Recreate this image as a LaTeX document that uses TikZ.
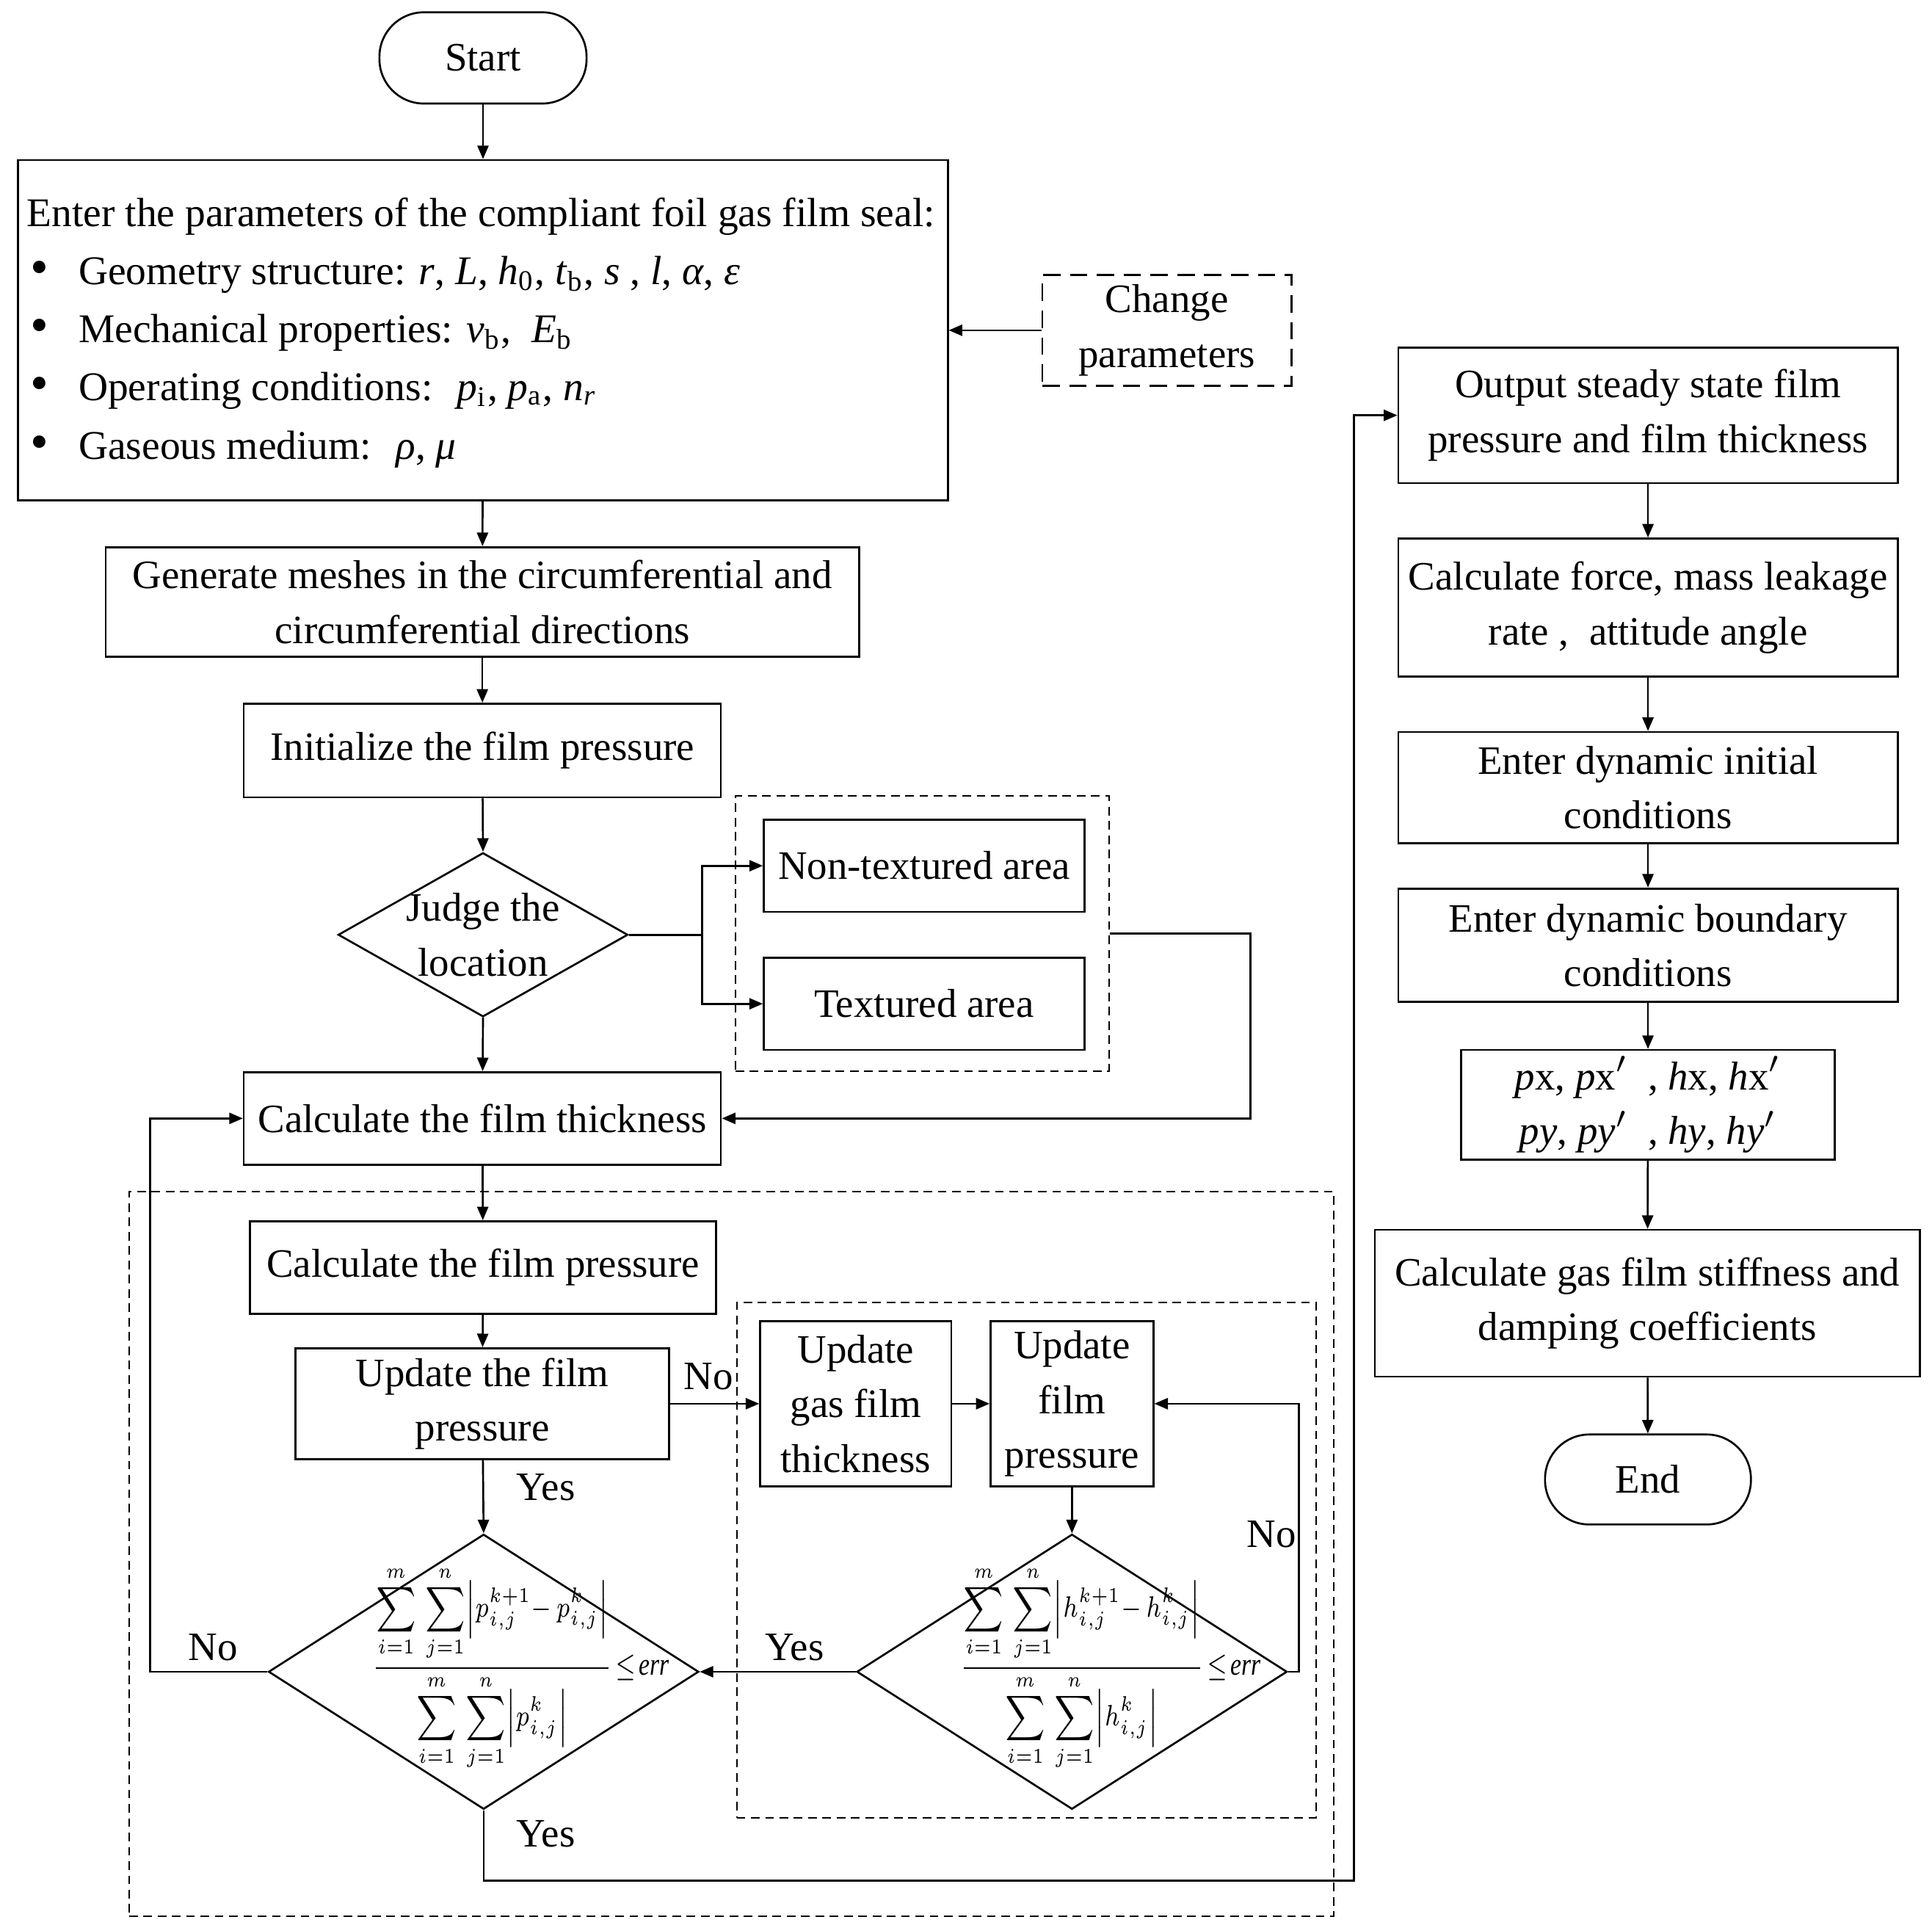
\documentclass[tikz,border=0pt]{standalone}
\usepackage{fontspec}
\usepackage{amsmath}
\usepackage{graphicx}
\setmainfont{Liberation Serif}
\usetikzlibrary{arrows.meta,shapes.geometric}
\newcommand\mainfs{\fontsize{9.3}{12.6}\selectfont}
\newcommand\parfs{\fontsize{9.4}{13.4}\selectfont}
\newcommand\frmfs{\fontsize{7.5}{9}\selectfont}
\newcommand\myLim[1]{\makebox[0pt]{$\scriptscriptstyle #1$}}
\newcommand\dsum{\displaystyle\sum_{\myLim{i=1}}^{\myLim{m}}\,\sum_{\myLim{j=1}}^{\myLim{n}}}
\newcommand\errfrac[1]{\scalebox{0.76}[0.97]{$\displaystyle\frac{\dsum\Bigl|#1_{i,j}^{\scriptscriptstyle k+1}{-}\,#1_{i,j}^{k}\Bigr|}{\dsum\Bigl|#1_{i,j}^{k}\Bigr|}\!\le\!\mathit{err}$}}
\begin{document}
\begin{tikzpicture}[x=0.01cm,y=-0.01cm,line width=0.45pt,
  box/.style={draw,rectangle,inner sep=0pt,align=center,font=\mainfs},
  term/.style={draw,rectangle,rounded corners=0.36cm,inner sep=0pt,font=\mainfs},
  dia/.style={draw,diamond,inner sep=0pt},
  dbox/.style={draw,dash pattern=on 2pt off 1.3pt,line width=0.35pt,inner sep=0pt},
  ldbox/.style={draw,dash pattern=on 4pt off 2.2pt,inner sep=0pt,align=center,font=\mainfs},
  arr/.style={-{Triangle[length=0.11cm,width=0.09cm]}},
  lbl/.style={font=\mainfs,inner sep=0pt},
  frm/.style={font=\frmfs,inner sep=0pt}]
\useasboundingbox (0,0) rectangle (1568,1564);

% left column
\node[term,minimum width=1.68cm,minimum height=0.74cm] (start) at (392,47) {Start};
\node[box,minimum width=7.54cm,minimum height=2.76cm] (param) at (392,268) {};
\node[anchor=west,align=left,font=\parfs,inner sep=0pt] (ptext) at (21,270) {%
Enter the parameters of the compliant foil gas film seal:\\
\makebox[0.42cm][l]{\hspace{0.03cm}\large\textbullet}Geometry structure: \textit{r}, \textit{L}, \textit{h}\textsubscript{0}, \textit{t}\textsubscript{b}, \textit{s} , \textit{l}, \textit{α}, \textit{ε}\\
\makebox[0.42cm][l]{\hspace{0.03cm}\large\textbullet}Mechanical properties: \textit{v}\textsubscript{b}, \ \textit{E}\textsubscript{b}\\
\makebox[0.42cm][l]{\hspace{0.03cm}\large\textbullet}Operating conditions:\hspace{0.6em}\textit{p}\textsubscript{i}, \textit{p}\textsubscript{a}, \textit{n}\textsubscript{\textit{r}}\\
\makebox[0.42cm][l]{\hspace{0.03cm}\large\textbullet}Gaseous medium:\hspace{0.6em}\textit{ρ}, \textit{μ}};
\node[ldbox,minimum width=2.02cm,minimum height=0.90cm] (change) at (947,268) {Change\\parameters};
\node[box,minimum width=6.11cm,minimum height=0.89cm] (gen) at (391.5,488.5) {Generate meshes in the circumferential and\\circumferential directions};
\node[box,minimum width=3.87cm,minimum height=0.76cm] (init) at (391.5,609) {Initialize the film pressure};
\node[dia,minimum width=2.35cm,minimum height=1.33cm] (judge) at (392,758.5) {};
\node[lbl,align=center] (judget) at (judge.center) {Judge the\\location};
\node[dbox,minimum width=3.03cm,minimum height=2.23cm] (area) at (748.5,757.5) {};
\node[box,minimum width=2.60cm,minimum height=0.75cm] (nontex) at (750,702.5) {Non-textured area};
\node[box,minimum width=2.60cm,minimum height=0.75cm] (tex) at (750,814.5) {Textured area};
\node[box,minimum width=3.87cm,minimum height=0.75cm] (thick) at (391.5,907.5) {Calculate the film thickness};

% iteration block
\node[dbox,minimum width=9.77cm,minimum height=5.88cm] (big) at (593.5,1261) {};
\node[box,minimum width=3.78cm,minimum height=0.75cm] (calcp) at (392,1028.5) {Calculate the film pressure};
\node[box,minimum width=3.03cm,minimum height=0.90cm] (upd) at (391.5,1139) {Update the film\\pressure};
\node[dbox,minimum width=4.70cm,minimum height=4.18cm] (inner) at (833,1266) {};
\node[box,minimum width=1.55cm,minimum height=1.34cm] (ugt) at (694.5,1139) {Update\\gas film\\thickness};
\node[box,minimum width=1.32cm,minimum height=1.34cm] (ufp) at (870,1139) {Update\\film\\pressure};
\node[dia,minimum width=3.49cm,minimum height=2.23cm] (hd) at (870,1356.5) {};
\node[frm] (hf) at ([xshift=0.31cm,yshift=0.03cm]hd.center) {\errfrac{h}};
\node[dia,minimum width=3.49cm,minimum height=2.23cm] (pd) at (392.5,1356.5) {};
\node[frm] (pf) at ([xshift=0.30cm,yshift=0.03cm]pd.center) {\errfrac{p}};

% right column
\node[box,minimum width=4.05cm,minimum height=1.10cm] (out) at (1337.5,337) {Output steady state film\\pressure and film thickness};
\node[box,minimum width=4.05cm,minimum height=1.12cm] (force) at (1337.5,493) {Calculate force, mass leakage\\rate ,\ \ attitude angle};
\node[box,minimum width=4.05cm,minimum height=0.90cm] (dinit) at (1337.5,639) {Enter dynamic initial\\conditions};
\node[box,minimum width=4.05cm,minimum height=0.92cm] (dbound) at (1337.5,767) {Enter dynamic boundary\\conditions};
\node[box,minimum width=3.03cm,minimum height=0.89cm] (pxbox) at (1337.5,896.5) {\textit{p}x, \textit{p}x$'$\ \ , \textit{h}x, \textit{h}x$'$\\\textit{py}, \textit{py}$'$\ \ , \textit{hy}, \textit{hy}$'$};
\node[box,minimum width=4.42cm,minimum height=1.19cm] (stiff) at (1337,1057.5) {Calculate gas film stiffness and\\damping coefficients};
\node[term,minimum width=1.67cm,minimum height=0.73cm] (endn) at (1337.5,1200.5) {End};

% labels
\node[lbl] (no1) at (575,1117) {No};
\node[lbl] (yes1) at (443,1207) {Yes};
\node[lbl] (no2) at (173,1337) {No};
\node[lbl] (yes2) at (645,1337) {Yes};
\node[lbl] (no3) at (1032,1245) {No};
\node[lbl] (yes3) at (443,1488) {Yes};

% connectors
\draw[arr] (start) -- (param);
\draw[arr] (change.west) -- (param.east);
\draw[arr] (param) -- (gen);
\draw[arr] (gen) -- (init);
\draw[arr] (init) -- (judge.north);
\coordinate (fork) at (570,758.5);
\draw (judge.east) -- (fork);
\draw[arr] (fork) |- (nontex.west);
\draw[arr] (fork) |- (tex.west);
\coordinate (rt) at (1015,757.5);
\draw[arr] (area.east) -- (rt) |- (thick.east);
\draw[arr] (judge.south) -- (thick);
\draw[arr] (thick) -- (calcp);
\draw[arr] (calcp) -- (upd);
\draw[arr] (upd) -- (ugt);
\draw[arr] (ugt) -- (ufp);
\draw[arr] (ufp) -- (hd.north);
\coordinate (hr) at (1054,1356.5);
\draw[arr] (hd.east) -- (hr) |- (ufp.east);
\draw[arr] (hd.west) -- (pd.east);
\draw[arr] (upd) -- (pd.north);
\coordinate (pl) at (122,1356.5);
\draw[arr] (pd.west) -- (pl) |- (thick.west);
\coordinate (pb) at (1099,1526);
\draw[arr] (pd.south) |- (pb) |- (out.west);
\draw[arr] (out) -- (force);
\draw[arr] (force) -- (dinit);
\draw[arr] (dinit) -- (dbound);
\draw[arr] (dbound) -- (pxbox);
\draw[arr] (pxbox) -- (stiff);
\draw[arr] (stiff) -- (endn);
\end{tikzpicture}
\end{document}
